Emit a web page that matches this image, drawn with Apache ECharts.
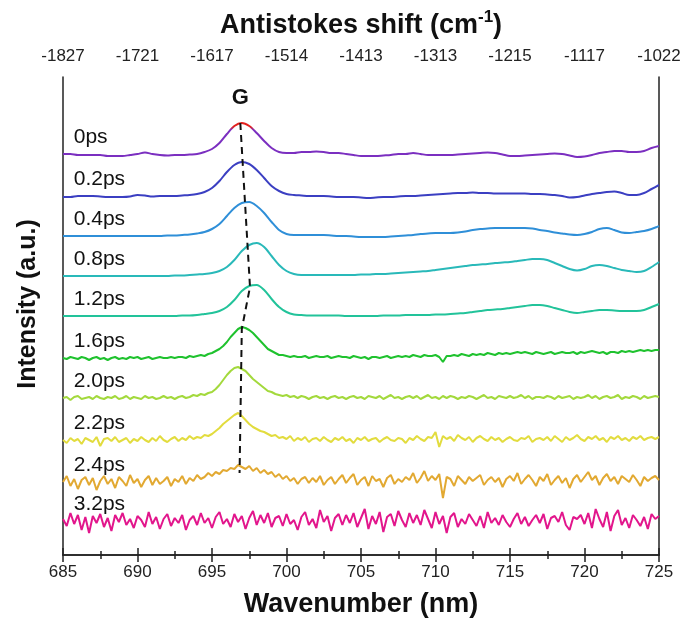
<!DOCTYPE html>
<html><head><meta charset="utf-8">
<script src="https://cdn.jsdelivr.net/npm/echarts@6/dist/echarts.min.js"></script>
<style>html,body{margin:0;padding:0;background:#fff}#c{width:684px;height:626px}</style>
</head><body><div id="c"></div>
<script>
// ---------------- DATA ----------------
const wlCoarse = [685,685.5,686,686.5,687,687.5,688,688.5,689,689.5,690,690.5,691,691.5,692,692.5,693,693.5,694,694.5,695,695.5,696,696.5,697,697.5,698,698.5,699,699.5,700,700.5,701,701.5,702,702.5,703,703.5,704,704.5,705,705.5,706,706.5,707,707.5,708,708.5,709,709.5,710,710.5,711,711.5,712,712.5,713,713.5,714,714.5,715,715.5,716,716.5,717,717.5,718,718.5,719,719.5,720,720.5,721,721.5,722,722.5,723,723.5,724,724.5,725];
const wlFine = [685,685.25,685.5,685.75,686,686.25,686.5,686.75,687,687.25,687.5,687.75,688,688.25,688.5,688.75,689,689.25,689.5,689.75,690,690.25,690.5,690.75,691,691.25,691.5,691.75,692,692.25,692.5,692.75,693,693.25,693.5,693.75,694,694.25,694.5,694.75,695,695.25,695.5,695.75,696,696.25,696.5,696.75,697,697.25,697.5,697.75,698,698.25,698.5,698.75,699,699.25,699.5,699.75,700,700.25,700.5,700.75,701,701.25,701.5,701.75,702,702.25,702.5,702.75,703,703.25,703.5,703.75,704,704.25,704.5,704.75,705,705.25,705.5,705.75,706,706.25,706.5,706.75,707,707.25,707.5,707.75,708,708.25,708.5,708.75,709,709.25,709.5,709.75,710,710.25,710.5,710.75,711,711.25,711.5,711.75,712,712.25,712.5,712.75,713,713.25,713.5,713.75,714,714.25,714.5,714.75,715,715.25,715.5,715.75,716,716.25,716.5,716.75,717,717.25,717.5,717.75,718,718.25,718.5,718.75,719,719.25,719.5,719.75,720,720.25,720.5,720.75,721,721.25,721.5,721.75,722,722.25,722.5,722.75,723,723.25,723.5,723.75,724,724.25,724.5,724.75,725];
const topLabels = ['-1827','-1721','-1617','-1514','-1413','-1313','-1215','-1117','-1022'];
const traceNames = ['0ps','0.2ps','0.4ps','0.8ps','1.2ps','1.6ps','2.0ps','2.2ps','2.4ps','3.2ps'];
const traceOffsets = [401,359,319,279,239,197,157,115,73,34];

const i0ps = [0,0,-1,-1,-1,-1,-2,-2,-2,-1, 0,1.5,0,-1,-1.5,-1,-1,-0.5,0,2, 5,11,20,28,31,28,21,13,6,2, 1,1,2,2,2.5,2,1,1,0,-1, -2,-2,-2,-1.5,-1,0,0,1,0,-1, -1,-1,-1,-0.5,0,0.5,1,1.5,1,-0.5, -2,-2,-1.5,-1,-0.5,0,0.5,0,-1.5,-3, -2.5,-1,1,2,3,3,2,2,3,6, 8];
const i02ps = [-1,-1,0,0,0,-0.5,-1,-1,-1,-0.5, 1,0.5,-0.5,0,0,0,0.5,1,2,4, 8,15,24,31,34,32,26,18,10,5, 2,1,0.5,0,0,0,-0.5,-1,-1,-1, -1.5,-2,-1.5,-1,-1,-0.5,0,0,0.5,1, 1.5,2,2.5,3,3,3.5,3,3,2.5,2.5, 2.5,2.5,2.5,2,2,1.5,1,0,-1.5,-1, 0.5,2,3,4,4.5,3,1,1,3,7, 11];
const i04ps = [0,0,0,0,0,0,0,0,0,0, 0,0,0,0,0.5,0.5,1,1.5,2.5,4, 7,12,20,28,33,34,30,23,14,6, 2,1,1,1,1,1,0.5,0,0,-0.5, -1,-1,-1,-1,-0.5,0,0.5,1,2,2.5, 3,3,3,3.5,4.5,6,7,7.5,8,8, 8,8,8,7.5,6,5,3.5,2.5,1.5,1, 2,4,7,8,6,3.5,3,4,5,7, 10];
const i08ps = [0,0,0,0,0,0,0,0,0,0, 0,0,0,0,0,0.5,0.5,1,1.5,2, 3,5,9,16,25,31,33,29,20,11, 5,2,1,1,1,1,1,1,1,1, 1.5,1.5,2,2,2.5,3,3.5,4,4.5,5, 6,7,8,9,10,11,11.5,12,13,13.5, 14,15,16,17,17,16,13,10,7,5.5, 7,10,11,10,8,6,5,4,5,9, 14];
const i12ps = [0,0,0,0,0,0,0,0,0,0, 0,0,0,0,0,0,0.5,0.5,1,2, 3,5,9,16,25,30,31,26,17,9, 4,1.5,1,0.5,0.5,0.5,0.5,0.5,0,0, 0,0,0,0.5,0.5,0.5,1,1,1,1, 1.5,1.5,2,2.5,3,4,5,6,6.5,7, 8,9,10,11,11,10,8,6,4,3, 4,5,6,6,5.5,5,5,5,6,9, 12];

const i16ps = [0,-1,1,0, -1,1,0,-2, 0,1,-1,0, -2,0,1,-1, 0,-1,1,0, 1,-1,0,1, -1,0,1,0, 0,1,0,1, 1,0,2,1, 2,3,2,4, 5,7,9,12, 16,21,25,29, 31,30,28,25, 21,17,13,9, 7,5,3,3, 2,1,2,1, 1,2,0,1, 2,1,1,2, 0,1,2,1, 1,0,2,1, 0,1,-1,1, 1,0,1,2, 0,1,2,1, 2,1,3,2, 1,3,2,2, 3,1,-4,2, 2,3,2,4, 3,2,4,3, 4,3,5,4, 3,5,4,5, 4,5,6,5, 6,5,4,6, 5,4,5,6, 4,5,6,5, 5,6,4,6, 5,6,7,6, 5,6,4,6, 6,5,7,6, 7,6,7,8, 7,8,7,8, 8];
const i20ps = [0,1,-2,1, 2,-1,0,1, -1,2,0,-1, 1,0,2,-1, 0,2,-1,1, 0,-1,2,0, 1,-1,0,2, 0,1,-1,1, 2,0,1,3, 2,4,3,5, 6,9,13,18, 23,27,30,31, 29,27,23,19, 16,13,10,7, 6,4,3,2, 3,1,2,0, 2,1,-1,1, 2,0,1,-1, 1,2,0,1, -1,1,2,0, 1,-1,2,1, 0,2,-1,1, 3,0,1,-1, 1,2,0,2, -1,1,3,0, 1,-1,2,0, 2,1,-1,1, 0,2,1,-1, 1,3,0,1, -1,2,1,0, 2,0,1,3, 0,2,-1,1, 1,0,2,1, -1,2,0,1, 2,-1,1,0, 1,3,0,2, -1,1,2,0, 1,3,-1,1, 0,2,1,-1, 2,0,1,2, 1];
const i22ps = [0,-3,2,-1, 1,-4,2,0, -2,3,-6,1, 2,-1,3,-2, 0,2,-3,1, -1,3,0,-2, 2,-1,4,0, -2,1,3,-1, 2,0,4,1, 3,2,5,4, 6,9,12,16, 19,22,25,27, 24,20,16,13, 11,9,8,6, 4,5,2,3, 1,4,-1,2, 0,3,-2,1, 2,-1,3,0, -2,2,0,3, -1,1,-3,2, 0,3,-1,1, 2,-2,1,3, 0,-1,2,1, -3,2,0,4, 1,-1,3,2, 8,-7,4,1, 3,-1,5,2, 0,3,-2,2, 4,1,-1,3, 0,2,-2,1, 3,0,-1,2, 1,4,-2,1, 2,0,3,-1, 4,1,-2,3, 0,2,5,1, -1,3,1,4, 0,2,-2,3, 1,4,0,2, -1,3,1,4, 0,2,3,1, 3];
const i24ps = [0,6,-4,3, -7,2,5,-3, 4,-8,1,6, -2,3,-6,5, 1,-4,7,-1, 3,-5,2,6, -3,4,-2,1, 5,-4,3,0, 6,-2,4,1, 7,3,5,9, 6,10,8,12, 11,14,13,17, 15,13,16,11, 14,9,12,8, 10,5,8,3, 6,1,4,-2, 3,5,-1,4, 0,6,-3,2, 5,-2,3,7, -1,4,8,-3, 2,5,-4,6, 1,3,-5,4, 7,-2,3,0, 5,2,9,-1, 4,11,1,6, 2,8,-16,5, 3,-4,6,2, -2,5,1,4, 7,-3,2,5, 0,4,-5,3, 6,1,9,-2, 3,7,2,-4, 5,1,8,-3, 2,6,-1,4, -6,3,7,0, 5,10,2,6, -3,4,8,1, 5,-2,6,3, 0,7,2,-4, 5,1,4,6, 2];
const i32ps = [2,-5,8,-3, 6,-9,4,-12, 5,-2,7,-6, 3,-10,6,-1, 8,-4,2,-7, 5,1,-6,9, -3,4,-8,2, 7,-5,3,-2, 6,-9,1,5, -4,8,-2,3, -7,4,9,-3, 2,-6,7,-1, 5,-8,3,10, -4,6,-2,8, -6,3,5,-5, 7,-3,1,-9, 4,9,-4,2, -7,11,-1,5, -10,3,7,-4, 6,-2,8,-6, 3,12,-8,5, -3,9,-11,4, 7,-5,10,1, -6,8,-2,6, -4,11,2,-7, 9,-3,5,-12, 4,8,-6,2, -3,7,1,-5, 5,-7,9,-2, 3,-4,6,-1, -6,2,8,-3, 4,-5,1,6, -2,7,-8,3, 5,-1,9,-4, -9,4,2,6, -3,8,-7,12, 2,-6,9,-10, 5,11,-4,3, -7,6,1,-5, 4,-8,7,2, 5];

const traceValues = [i0ps,i02ps,i04ps,i08ps,i12ps,i16ps,i20ps,i22ps,i24ps,i32ps];
const traceGrids = [wlCoarse,wlCoarse,wlCoarse,wlCoarse,wlCoarse,wlFine,wlFine,wlFine,wlFine,wlFine];

// G peak position guide (dashed)
const gPeakX = [696.9, 697.55, 697.0, 696.85];
const gPeakY = [432, 268, 226, 82];

// ---------------- STYLE ----------------
const FONT = "'Liberation Sans', Arial, sans-serif";
const colors = ['#7b2fc0','#3b3fc2','#2f8fd8','#29b9b9','#22c39a','#1fc22e','#a3d93c','#e2dc3e','#e2a932','#e2168c'];

const chart = echarts.init(document.getElementById('c'));

const series = traceValues.map((vals, k) => {
  const grid = traceGrids[k];
  let color = colors[k];
  if (k === 0) {
    color = {type:'linear', x:0, y:0, x2:0, y2:1, colorStops:[
      {offset:0, color:'#e3211d'},{offset:0.16, color:'#e3211d'},
      {offset:0.24, color:'#7b2fc0'},{offset:1, color:'#7b2fc0'}]};
  }
  return {
    type:'line', name: traceNames[k], xAxisIndex:0, yAxisIndex:0,
    data: grid.map((x,i) => [x, traceOffsets[k] + vals[i]]),
    showSymbol:false, symbol:'none', smooth: k < 5 ? 0.3 : false,
    lineStyle:{color: color, width: 2},
    silent:true, z: 2,
    markPoint: {
      silent:true, symbol:'circle', symbolSize:1,
      itemStyle:{color:'rgba(0,0,0,0)'},
      label:{show:true, position:'right', distance:5, offset:[0,-17],
        formatter: traceNames[k], color:'#111', fontSize:21, fontFamily:FONT},
      data:[{coord:[685.35, traceOffsets[k]]}]
    }
  };
});

series.push({
  type:'line', xAxisIndex:0, yAxisIndex:0,
  data: gPeakX.map((x,i)=>[x, gPeakY[i]]),
  showSymbol:false, symbol:'none', silent:true, z:5,
  lineStyle:{color:'#111', width:2, type:[7,5]},
  markPoint:{
    silent:true, symbol:'circle', symbolSize:1, itemStyle:{color:'rgba(0,0,0,0)'},
    label:{show:true, position:'inside', formatter:'G', color:'#111', fontSize:22, fontWeight:'bold', fontFamily:FONT},
    data:[{coord:[696.9, 457]}]
  }
});

const axisCommon = {
  type:'value', min:685, max:725, interval:5,
  axisLine:{show:true, lineStyle:{color:'#222', width:1.5}},
  axisTick:{show:true, inside:true, length:7, lineStyle:{color:'#222', width:1.5}},
  minorTick:{show:true, splitNumber:2, length:4, lineStyle:{color:'#222', width:1.5}},
  splitLine:{show:false}, minorSplitLine:{show:false}
};

chart.setOption({
  animation:false,
  backgroundColor:'#fff',
  grid:{left:63, right:25, top:77, bottom:71, containLabel:false},
  xAxis:[
    Object.assign({}, axisCommon, {
      position:'bottom',
      axisLabel:{color:'#222', fontSize:17, margin:9, fontFamily:FONT},
      name:'Wavenumber (nm)', nameLocation:'middle', nameGap:36,
      nameTextStyle:{color:'#111', fontSize:27, fontWeight:'bold', fontFamily:FONT}
    }),
    Object.assign({}, axisCommon, {
      position:'top',
      axisLabel:{color:'#222', fontSize:17, margin:12, fontFamily:FONT,
        formatter:(v)=>topLabels[Math.round((v-685)/5)]},
      name:'{a|Antistokes shift (cm}{s|-1}{a|)}', nameLocation:'middle', nameGap:38,
      nameTextStyle:{rich:{
        a:{color:'#111', fontSize:27, fontWeight:'bold', fontFamily:FONT, verticalAlign:'bottom', lineHeight:30},
        s:{color:'#111', fontSize:17, fontWeight:'bold', fontFamily:FONT, verticalAlign:'top', lineHeight:30, padding:[0,0,14,0]}
      }}
    })
  ],
  yAxis:[
    {type:'value', min:0, max:478, position:'left',
     axisLine:{show:true, lineStyle:{color:'#222', width:1.5}},
     axisTick:{show:false}, axisLabel:{show:false}, splitLine:{show:false}},
    {type:'value', min:0, max:478, position:'right',
     axisLine:{show:true, lineStyle:{color:'#222', width:1.5}},
     axisTick:{show:false}, axisLabel:{show:false}, splitLine:{show:false}}
  ],
  graphic:[{
    type:'text', x:28, y:304, rotation:Math.PI/2,
    style:{text:'Intensity (a.u.)', fill:'#111', font:"bold 25px 'Liberation Sans', Arial, sans-serif",
      textAlign:'center', textVerticalAlign:'middle'}
  }],
  series: series
});
</script>
</body></html>
